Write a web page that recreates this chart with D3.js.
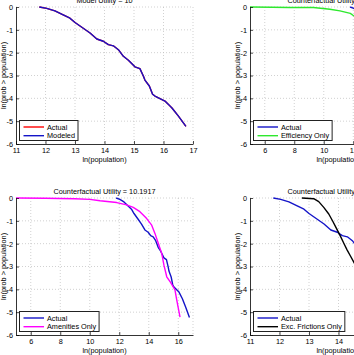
<!DOCTYPE html>
<html><head><meta charset="utf-8">
<script src="https://cdn.jsdelivr.net/npm/d3@7"></script>
<style>
html,body{margin:0;padding:0;background:#fff;overflow:hidden}
svg{display:block;font-family:"Liberation Sans",Arial,sans-serif}
</style></head>
<body>
<script>
// ---- data ----
const actualX = [11.79,12.04,12.32,12.6,12.83,13.0,13.28,13.51,13.74,13.96,14.13,14.3,14.47,14.64,14.81,15.03,15.2,15.32,15.37,15.52,15.63,15.71,16.05,16.28,16.5,16.76];
const actualY = [0,-0.06,-0.17,-0.35,-0.49,-0.68,-0.93,-1.14,-1.4,-1.5,-1.65,-1.7,-1.87,-2.16,-2.33,-2.62,-2.7,-3.03,-3.2,-3.46,-3.82,-3.9,-4.12,-4.41,-4.77,-5.23];
const modeledX = actualX.slice();
const modeledY = actualY.slice();
const efficiencyX = [5,6.5,7.7,9.3,10.42,11.1,11.8,12.5,13.2,14.0,15.0,16.0];
const efficiencyY = [0,-0.01,-0.02,-0.02,-0.1,-0.17,-0.28,-0.6,-1.1,-1.9,-3.2,-4.8];
const amenitiesX = [5,7,9,10,10.7,11.83,12.5,12.95,13.4,13.86,14.2,14.42,14.65,14.88,15.03,15.22,15.49,15.78,15.9,16.12];
const amenitiesY = [0,-0.01,-0.03,-0.06,-0.12,-0.2,-0.3,-0.41,-0.6,-0.9,-1.19,-1.55,-1.99,-2.43,-2.94,-3.45,-3.71,-4.03,-4.47,-5.22];
const frictionsX = [12.76,13.16,13.33,13.5,13.67,13.81,13.93,14.06,14.18,14.29,14.4,14.6,14.9,15.2];
const frictionsY = [0,-0.03,-0.16,-0.41,-0.7,-1.03,-1.33,-1.66,-1.98,-2.27,-2.53,-3.0,-3.8,-4.7];
const yTicks = [0,-1,-2,-3,-4,-5,-6];
const xTicksA = [11,12,13,14,15,16,17];
const xTicksB = [6,8,10,12,14,16];
const titles = ["Model Utility = 10","Counterfactual Utility = 10.0467","Counterfactual Utility = 10.1917","Counterfactual Utility = 10.0823"];
const xLabel = "ln(population)";
const yLabel = "ln(prob > population)";

const W=354,H=355,PW=177,PH=137;
const svg=d3.select("body").append("svg").attr("width",W).attr("height",H);
const FS=7.3;

function panel(x0,y0,xDom,xTicks,title,series){
  const g=svg.append("g").attr("transform",`translate(${x0},${y0})`);
  const x=d3.scaleLinear().domain(xDom).range([0,PW]);
  const y=d3.scaleLinear().domain([-6,0]).range([PH,0]);
  // grid
  const grid=g.append("g").attr("stroke","#bdbdbd").attr("stroke-width",0.7).attr("stroke-dasharray","1,2");
  xTicks.forEach(t=>{ if(x(t)>0.5) grid.append("line").attr("x1",x(t)).attr("x2",x(t)).attr("y1",0).attr("y2",PH); });
  if(x(xDom[1])>x(xTicks[xTicks.length-1])+0.5) grid.append("line").attr("x1",PW).attr("x2",PW).attr("y1",0).attr("y2",PH);
  yTicks.forEach(t=>{ if(y(t)<PH-0.5) grid.append("line").attr("x1",0).attr("x2",PW).attr("y1",y(t)).attr("y2",y(t)); });
  // clip
  const cid="c"+x0+"_"+y0;
  g.append("clipPath").attr("id",cid).append("rect").attr("x",-1).attr("y",-1).attr("width",PW+2).attr("height",PH+2);
  const line=d3.line().x(d=>x(d[0])).y(d=>y(d[1]));
  series.forEach(s=>{
    g.append("path").attr("clip-path",`url(#${cid})`).datum(d3.zip(s.xs,s.ys)).attr("d",line)
     .attr("fill","none").attr("stroke",s.color).attr("stroke-width",1.4).attr("stroke-linejoin","round");
  });
  // axes
  const ax=g.append("g").attr("transform",`translate(0,${PH})`)
    .call(d3.axisBottom(x).tickValues(xTicks).tickFormat(d3.format("d")).tickSize(-3).tickPadding(4).tickSizeOuter(0));
  const ay=g.append("g").call(d3.axisLeft(y).tickValues(yTicks).tickFormat(d=>d===0?"0":"-"+Math.abs(d)).tickSize(-3).tickPadding(3).tickSizeOuter(0));
  [ax,ay].forEach(a=>{
    a.select(".domain").attr("stroke","#000").attr("stroke-width",0.8);
    a.selectAll(".tick line").attr("stroke","#000").attr("stroke-width",0.7);
    a.selectAll("text").attr("font-size",FS).attr("fill","#000").attr("font-family","Liberation Sans, Arial, sans-serif");
  });
  // labels
  g.append("text").attr("x",PW/2).attr("y",-4.5).attr("text-anchor","middle").attr("font-size",FS).text(title);
  g.append("text").attr("x",PW/2).attr("y",PH+18).attr("text-anchor","middle").attr("font-size",FS).text(xLabel);
  g.append("text").attr("transform",`translate(-10.5,${PH/2}) rotate(-90)`).attr("text-anchor","middle").attr("font-size",FS).text(yLabel);
  // legend
  const lg=g.append("g");
  const box=lg.append("rect").attr("x",3.5).attr("y",PH-23.5).attr("height",20).attr("fill","#fff").attr("stroke","#222").attr("stroke-width",1);
  let maxR=0;
  series.forEach((s,i)=>{
    const yy=PH-17+i*8.7;
    lg.append("line").attr("x1",7.5).attr("x2",28).attr("y1",yy).attr("y2",yy).attr("stroke",s.color).attr("stroke-width",1.4);
    const t=lg.append("text").attr("x",31).attr("y",yy+2.5).attr("font-size",FS).text(s.name);
    maxR=Math.max(maxR,31+t.node().getComputedTextLength());
  });
  box.attr("width",maxR+3-3.5);
}

const blue="#1414c8";
panel(16,7,[11,17],xTicksA,titles[0],[
  {name:"Actual",xs:actualX,ys:actualY,color:"#ff0000"},
  {name:"Modeled",xs:modeledX,ys:modeledY,color:blue}]);
panel(250,7,[5,17],xTicksB,titles[1],[
  {name:"Actual",xs:actualX,ys:actualY,color:blue},
  {name:"Efficiency Only",xs:efficiencyX,ys:efficiencyY,color:"#2ee82e"}]);
panel(16,198,[5,17],xTicksB,titles[2],[
  {name:"Actual",xs:actualX,ys:actualY,color:blue},
  {name:"Amenities Only",xs:amenitiesX,ys:amenitiesY,color:"#ff00ff"}]);
panel(250,198,[11,17],xTicksA,titles[3],[
  {name:"Actual",xs:actualX,ys:actualY,color:blue},
  {name:"Exc. Frictions Only",xs:frictionsX,ys:frictionsY,color:"#000000"}]);
</script>
</body></html>
